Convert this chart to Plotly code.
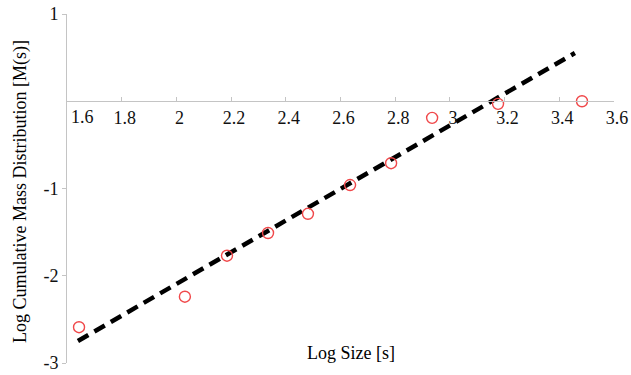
import plotly.graph_objects as go

# Data
log_size = [1.644, 2.031, 2.185, 2.335, 2.481, 2.635, 2.785, 2.935, 3.176, 3.483]
log_mass = [-2.59, -2.24, -1.77, -1.51, -1.29, -0.96, -0.71, -0.19, -0.03, 0.00]
fit_x = [1.640, 3.457]
fit_y = [-2.748, 0.553]

x_ticks = [1.6, 1.8, 2.0, 2.2, 2.4, 2.6, 2.8, 3.0, 3.2, 3.4, 3.6]
x_tick_text = ["", "1.8", "2", "2.2", "2.4", "2.6", "2.8", "3", "3.2", "3.4", "3.6"]
y_ticks = [-3, -2, -1, 1]
y_tick_text = ["-3", "-2", "-1", "1"]

FONT = "Liberation Serif, Times New Roman, serif"
AXIS_GRAY = "#c4c4c4"

W, H = 631, 375
ML, MR, MT, MB = 67, 17, 14, 12
plot_w = W - ML - MR
plot_h = H - MT - MB

fig = go.Figure()
fig.add_trace(go.Scatter(
    x=fit_x, y=fit_y, mode="lines",
    line=dict(color="black", width=4.5, dash="12px,7px"),
    showlegend=False, hoverinfo="skip",
))
fig.add_trace(go.Scatter(
    x=log_size, y=log_mass, mode="markers",
    marker=dict(symbol="circle-open", size=11, color="#f0484a", line=dict(width=1.4)),
    showlegend=False,
))

fig.update_layout(
    width=W, height=H,
    margin=dict(l=ML, r=MR, t=MT, b=MB, autoexpand=False),
    paper_bgcolor="white", plot_bgcolor="white",
    font=dict(family=FONT, size=18, color="black"),
    xaxis=dict(
        range=[1.6, 3.6], showgrid=False, zeroline=False, automargin=False,
        showline=True, linecolor=AXIS_GRAY, linewidth=1,
        anchor="free", position=0.75,
        tickvals=x_ticks, ticktext=x_tick_text,
        ticks="inside", ticklen=4, tickcolor=AXIS_GRAY,
        tickfont=dict(family=FONT, size=18, color="#111"),
        ticklabelshift=3,
    ),
    yaxis=dict(
        range=[-3, 1], showgrid=False, zeroline=False, automargin=False,
        showline=True, linecolor=AXIS_GRAY, linewidth=1,
        tickvals=y_ticks, ticktext=y_tick_text,
        ticks="outside", ticklen=4, tickcolor=AXIS_GRAY,
        tickfont=dict(family=FONT, size=18, color="#111"),
    ),
    annotations=[
        dict(text="1.6", x=x_ticks[0], y=0, xref="x", yref="y",
             xanchor="center", yanchor="top", xshift=15, yshift=-4,
             showarrow=False, font=dict(family=FONT, size=18, color="#111")),
        dict(text="Log Size [s]", x=2.64, y=(H - MB - 353) / plot_h, xref="x", yref="paper",
             xanchor="center", yanchor="middle", showarrow=False,
             font=dict(family=FONT, size=18, color="black")),
        dict(text="Log Cumulative Mass Distribution [M(s)]",
             x=(20 - ML) / plot_w, y=(H - MB - 192) / plot_h,
             xref="paper", yref="paper", textangle=-90,
             xanchor="center", yanchor="middle", showarrow=False,
             font=dict(family=FONT, size=18, color="black")),
    ],
)

fig.write_html("out.html")
